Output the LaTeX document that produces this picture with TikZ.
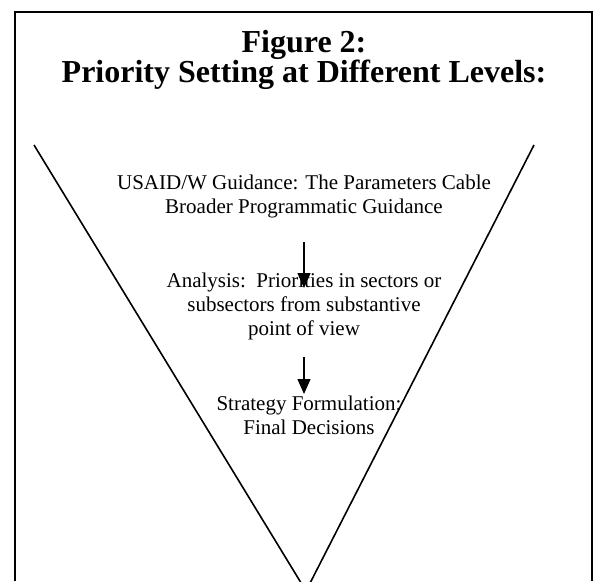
\documentclass[tikz,border=0pt]{standalone}
\usepackage{fontspec}
\setmainfont{Liberation Serif}
\usetikzlibrary{arrows.meta,calc}
\tikzset{
  frame/.style={line width=2pt},
  funnel/.style={line width=1.6pt, line join=miter},
  titletext/.style={font=\bfseries\fontsize{32}{30}\selectfont, align=center, inner sep=0pt, anchor=north},
  stage/.style={font=\fontsize{21}{24}\selectfont, align=center, inner sep=0pt, anchor=north},
  flow/.style={line width=1.4pt, -{Triangle[length=15pt,width=13pt]}}
}
\begin{document}
\begin{tikzpicture}[x=1pt,y=-1pt]
\useasboundingbox (0,0) rectangle (597,581);
% open frame running past the lower edge
\coordinate (fbl) at (15,581);
\coordinate (ftl) at (15,12);
\coordinate (ftr) at (592,12);
\coordinate (fbr) at (592,581);
\draw[frame] (fbl) -- (ftl) -- (ftr) -- (fbr);
% funnel
\coordinate (vl) at (34,145);
\coordinate (vr) at (534,145);
\coordinate (vtip) at (306,591);
\draw[funnel] (vl) -- (vtip) -- (vr);
% title
\node[titletext] (title) at (304,30.5) {Figure 2:\\Priority Setting at Different Levels:};
% stages
\node[stage] (guid) at (304,174.5) {USAID/W Guidance: The Parameters Cable\\Broader Programmatic Guidance};
\node[stage] (anal) at (304,272.5) {Analysis:\ \ Priorities in sectors or\\subsectors from substantive\\point of view};
\node[stage] (strat) at (309,395.5) {Strategy Formulation:\\Final Decisions};
% flow arrows
\draw[flow] ($(guid.south)+(0,24)$) -- ($(anal.north)+(0,15.5)$);
\draw[flow] ($(anal.south)+(0,17.5)$) -- ($(strat.north)+(-5,-1.5)$);
\end{tikzpicture}
\end{document}
